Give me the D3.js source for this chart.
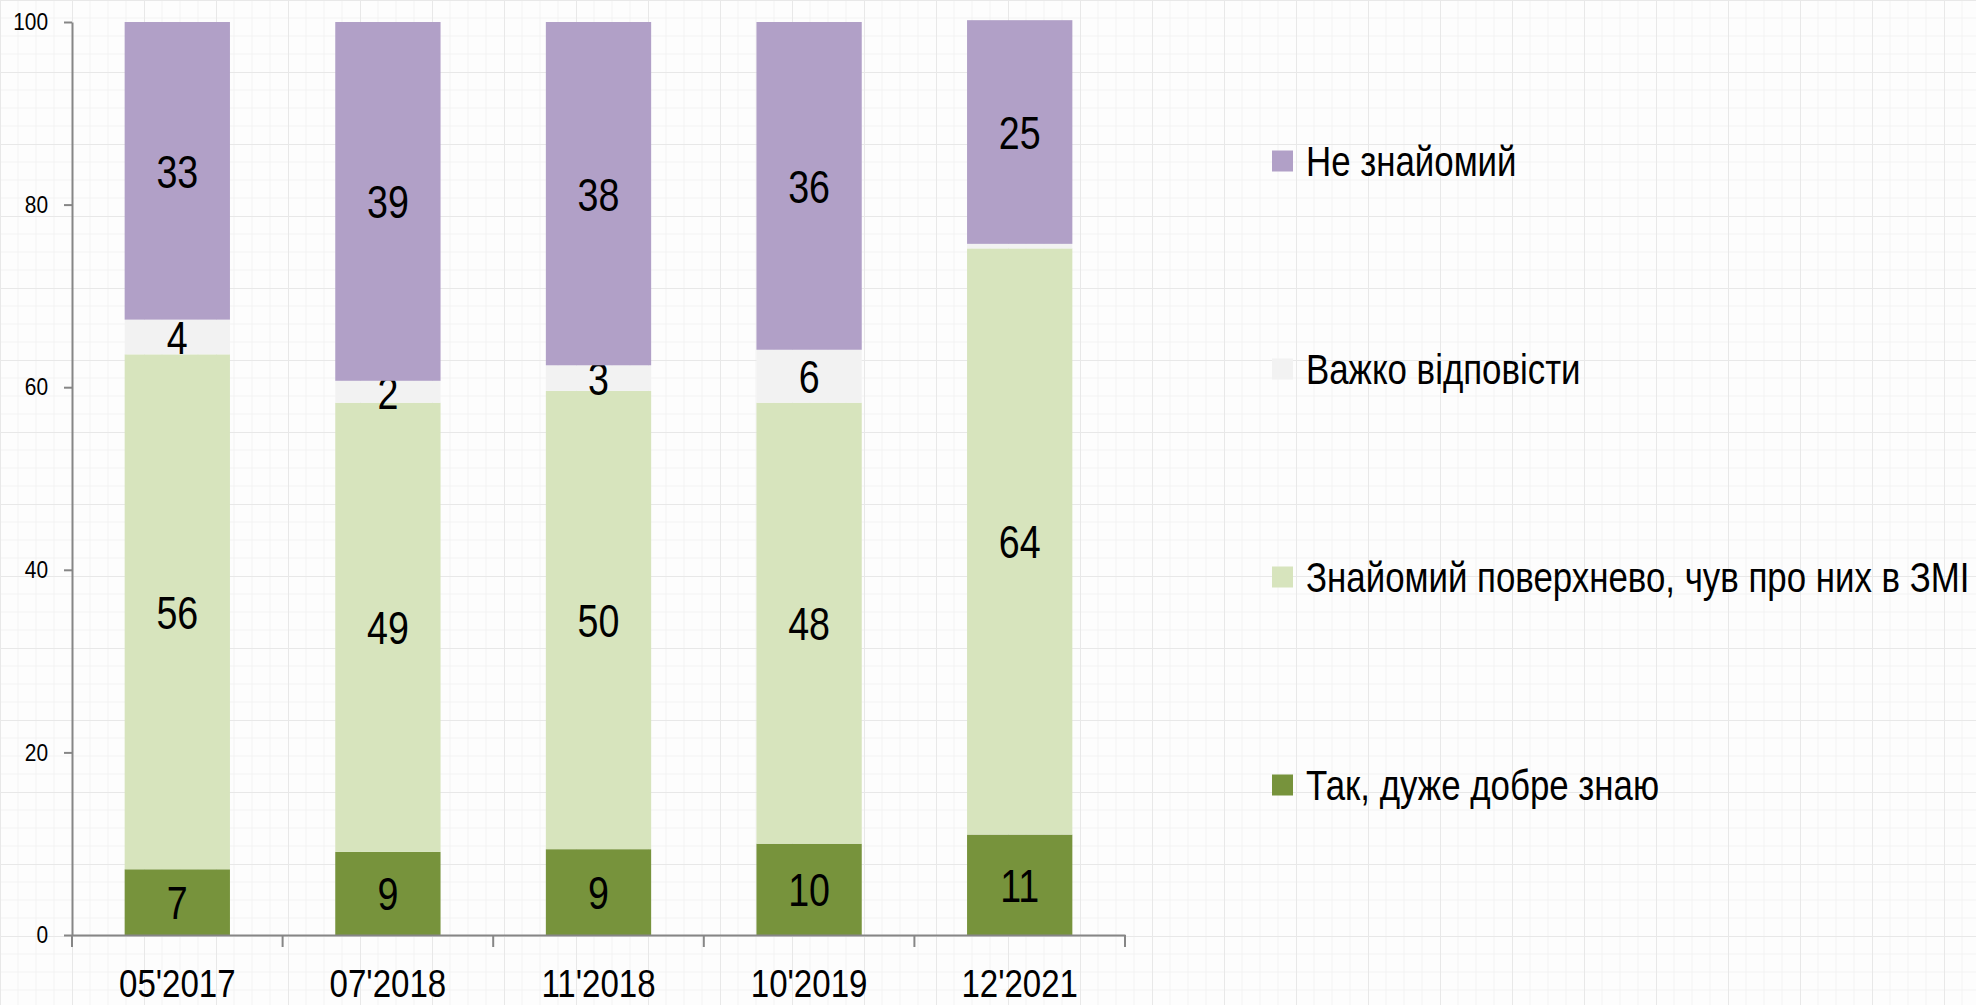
<!DOCTYPE html>
<html>
<head>
<meta charset="utf-8">
<script src="https://cdn.jsdelivr.net/npm/d3@7/dist/d3.min.js"></script>
<style>
body { margin:0; background:#fdfdfd; }
svg { display:block; font-family:"Liberation Sans", Arial, sans-serif; }
</style>
</head>
<body>
<svg></svg>
<script>
// survey waves
var periods = ["05'2017","07'2018","11'2018","10'2019","12'2021"]

// series, bottom to top of each bar
var seriesNames = ["Так, дуже добре знаю","Знайомий поверхнево, чув про них в ЗМІ","Важко відповісти","Не знайомий"]
var veryWell = [7.2, 9.1, 9.4, 10.0, 11.0]
var superficial = [56.4, 49.2, 50.2, 48.3, 64.2]
var hardToSay = [3.8, 2.4, 2.8, 5.8, 0.5]
var notFamiliar = [32.6, 39.3, 37.6, 35.9, 24.5]

var yTicks = [0,20,40,60,80,100]
var colors = ["#77933c","#d7e4bd","#f2f2f2","#b1a0c7"]

var screen = {width:1976,height:1005}
var margins = {top:22,left:72,right:851,bottom:70}

var rows = periods.map(function(p,i)
    {
        return {period:p, s0:veryWell[i], s1:superficial[i], s2:hardToSay[i], s3:notFamiliar[i]}
    })

var svg = d3.select("svg")
    .attr("width",screen.width)
    .attr("height",screen.height)

// faint paper grid in the background
var defs = svg.append("defs")
var pat = defs.append("pattern")
    .attr("id","paper")
    .attr("width",72)
    .attr("height",72)
    .attr("patternUnits","userSpaceOnUse")
pat.append("rect").attr("width",72).attr("height",72).attr("fill","#fdfdfd")
d3.range(18,72,18).forEach(function(d)
    {
        pat.append("line").attr("x1",d).attr("x2",d).attr("y1",0).attr("y2",72).attr("stroke","#f3f3f3")
        pat.append("line").attr("y1",d).attr("y2",d).attr("x1",0).attr("x2",72).attr("stroke","#f3f3f3")
    })
pat.append("line").attr("x1",0.5).attr("x2",0.5).attr("y1",0).attr("y2",72).attr("stroke","#e8e8e8")
pat.append("line").attr("y1",0.5).attr("y2",0.5).attr("x1",0).attr("x2",72).attr("stroke","#e8e8e8")
svg.append("rect").attr("width",screen.width).attr("height",screen.height).attr("fill","url(#paper)")

var xScale = d3.scaleBand()
    .domain(periods)
    .range([margins.left, screen.width - margins.right])
    .paddingInner(0.5)
    .paddingOuter(0.25)

var yScale = d3.scaleLinear()
    .domain([0,100])
    .range([screen.height - margins.bottom, margins.top])

var stack = d3.stack().keys(["s0","s1","s2","s3"])
var layers = stack(rows)

// bars
var groups = svg.append("g")
    .selectAll("g")
    .data(layers)
    .enter()
    .append("g")
    .attr("fill",function(d,i){return colors[i]})

groups.selectAll("rect")
    .data(function(d){return d})
    .enter()
    .append("rect")
    .attr("x",function(d){return xScale(d.data.period)})
    .attr("width",xScale.bandwidth())
    .attr("y",function(d){return yScale(d[1])})
    .attr("height",function(d){return yScale(d[0]) - yScale(d[1])})

// value labels
groups.selectAll("text")
    .data(function(d){return d.filter(function(v){return v[1]-v[0] >= 1.5})})
    .enter()
    .append("text")
    .attr("transform",function(d)
        {
            var cx = xScale(d.data.period) + xScale.bandwidth()/2
            var cy = (yScale(d[0]) + yScale(d[1]))/2
            return "translate("+cx+","+cy+") scale(0.8,1)"
        })
    .attr("dy","0.36em")
    .attr("text-anchor","middle")
    .attr("fill","#000")
    .attr("font-size",47)
    .text(function(d){return Math.round(d[1]-d[0])})

// y axis
var yAxis = d3.axisLeft(yScale)
    .tickValues(yTicks)
    .tickSize(8)
    .tickSizeOuter(0)

var yG = svg.append("g")
    .attr("transform","translate("+margins.left+",0)")
    .call(yAxis)
yG.select(".domain").attr("stroke","#868686").attr("stroke-width",2)
yG.selectAll("line").attr("stroke","#868686").attr("stroke-width",2)
yG.selectAll("text")
    .attr("font-size",24)
    .attr("font-family","Liberation Sans, Arial, sans-serif")
    .attr("fill","#000")
    .attr("x",-24/0.87)
    .attr("transform","scale(0.87,1)")

// x axis, ticks sit between the bars
var xAxis = d3.axisBottom(xScale).tickSize(0).tickSizeOuter(0)
var xG = svg.append("g")
    .attr("transform","translate(0,"+yScale(0)+")")
    .call(xAxis)
xG.select(".domain").attr("stroke","#868686").attr("stroke-width",2)
xG.selectAll("text")
    .attr("font-size",38)
    .attr("font-family","Liberation Sans, Arial, sans-serif")
    .attr("fill","#000")
    .attr("y",35)
    .attr("dy","0.71em")
    .attr("transform","scale(0.87,1)")
xG.selectAll("text").each(function(d)
    {
        d3.select(this.parentNode).attr("transform","translate("+(xScale(d)+xScale.bandwidth()/2)+",0)")
    })

var bounds = d3.range(periods.length+1).map(function(i){return xScale.range()[0] + i*xScale.step()})
xG.selectAll(".bound")
    .data(bounds)
    .enter()
    .append("line")
    .attr("class","bound")
    .attr("x1",function(d){return d})
    .attr("x2",function(d){return d})
    .attr("y1",0)
    .attr("y2",12)
    .attr("stroke","#868686")
    .attr("stroke-width",2)

// legend, top entry is the top of the stack
var legendOrder = [3,2,1,0]
var legend = svg.append("g")
    .attr("transform","translate(1272,161)")
    .selectAll("g")
    .data(legendOrder)
    .enter()
    .append("g")
    .attr("transform",function(d,i){return "translate(0,"+(i*208)+")"})

legend.append("rect")
    .attr("x",0)
    .attr("y",-10.5)
    .attr("width",21)
    .attr("height",21)
    .attr("fill",function(d){return colors[d]})

legend.append("text")
    .attr("transform","translate(34,0) scale(0.83,1)")
    .attr("dy","0.36em")
    .attr("font-size",42)
    .attr("fill","#000")
    .text(function(d){return seriesNames[d]})
</script>
</body>
</html>
